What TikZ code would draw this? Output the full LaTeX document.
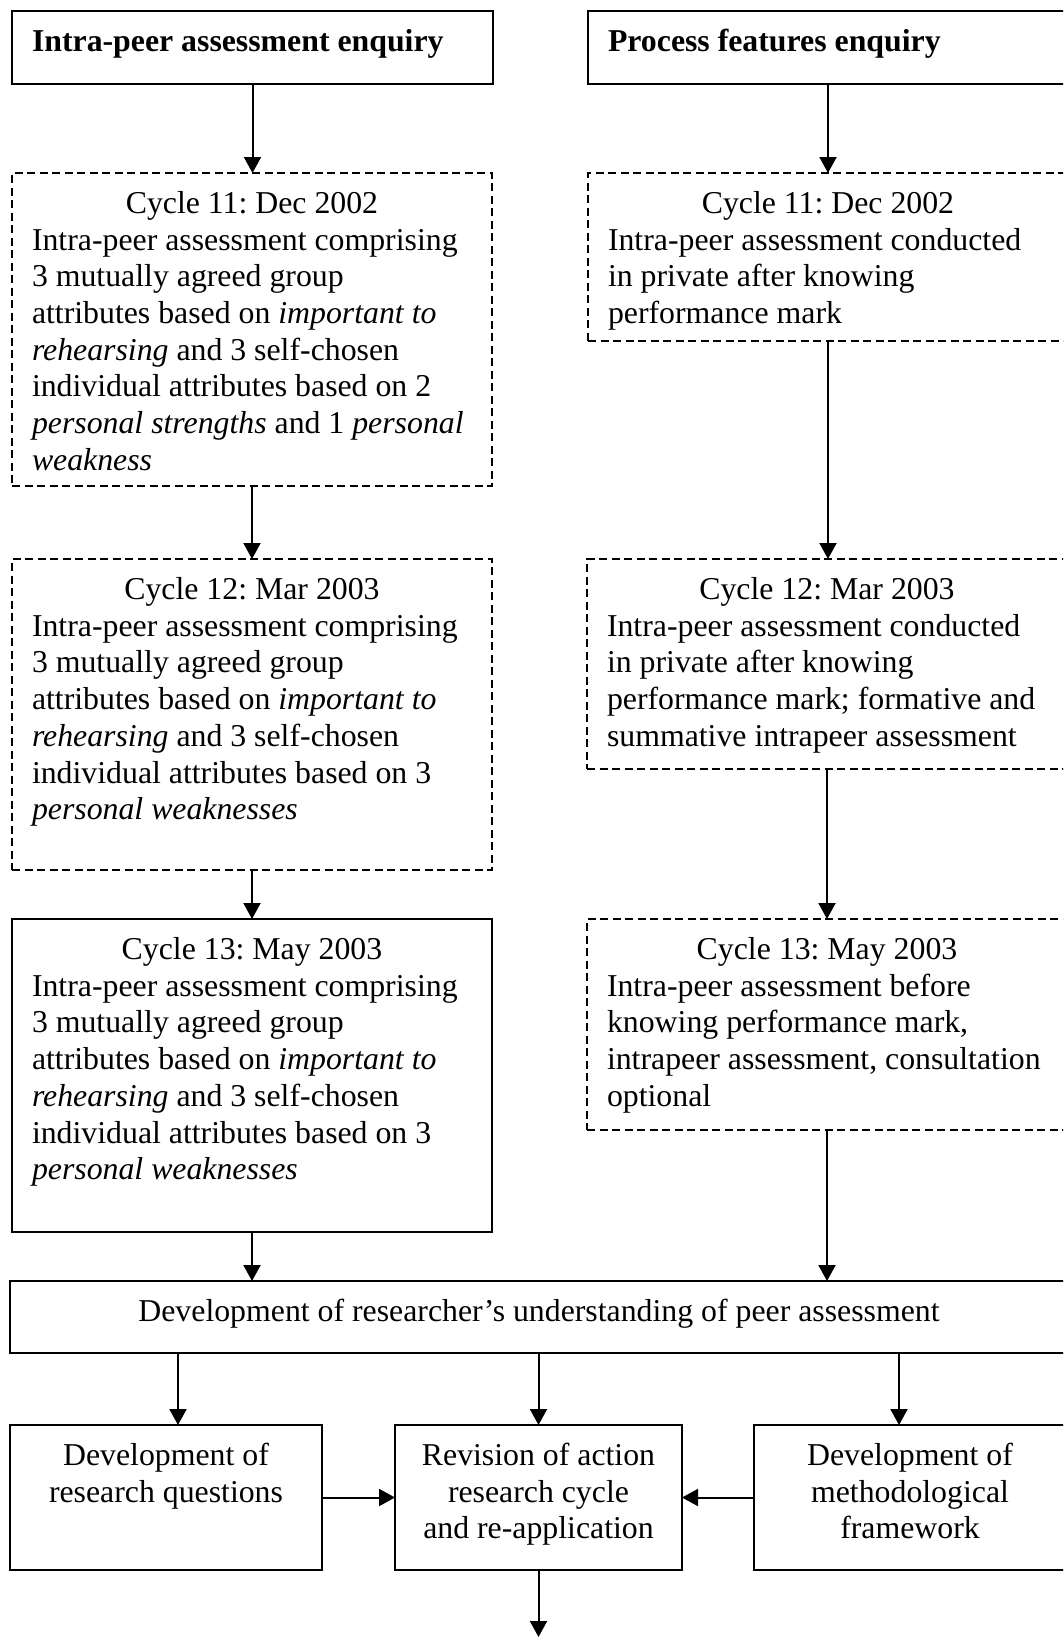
\documentclass[tikz,border=0pt]{standalone}
\usepackage{fontspec}
\setmainfont{Liberation Serif}
\usetikzlibrary{arrows.meta}
\frenchspacing
\begin{document}
\begin{tikzpicture}[x=1pt,y=-1pt,
  box/.style={draw, line width=2pt, inner sep=0pt, outer sep=0pt, anchor=north west},
  dbox/.style={box, dash pattern=on 8pt off 4.5pt},
  txt/.style={inner sep=0pt, outer sep=0pt, align=left, anchor=north west,
              font=\fontsize{31.8}{36.7}\selectfont},
  ctxt/.style={txt, align=center, anchor=north},
  arr/.style={line width=2pt, -{Triangle[width=17pt,length=16pt]}}]
\path[use as bounding box] (0,0) rectangle (1063,1638);
\clip (0,0) rectangle (1063,1638);
\fill[white] (0,0) rectangle (1063,1638);

% column headings
\node[box, minimum width=481pt, minimum height=73pt] (tL) at (12,11) {};
\node[box, minimum width=480pt, minimum height=73pt] (tR) at (588,11) {};
\node[txt] (tLt) at ([shift={(20pt,-14.8pt)}]tL.north west) {\strut\textbf{Intra-peer assessment enquiry}};
\node[txt] (tRt) at ([shift={(20pt,-14.8pt)}]tR.north west) {\strut\textbf{Process features enquiry}};

% left column: intra-peer assessment cycles
\node[dbox, minimum width=480pt, minimum height=313pt] (c11L) at (12,173) {};
\node[txt] (c11Lt) at ([shift={(20pt,-14.8pt)}]c11L.north west) {%
  \makebox[440pt]{\strut Cycle 11: Dec 2002}\\
  Intra-peer assessment comprising\\
  3 mutually agreed group\\
  attributes based on \textit{important to}\\
  \textit{rehearsing} and 3 self-chosen\\
  individual attributes based on 2\\
  \textit{personal strengths} and 1 \textit{personal}\\
  \textit{weakness}};

\node[dbox, minimum width=480pt, minimum height=311pt] (c12L) at (12,559) {};
\node[txt] (c12Lt) at ([shift={(20pt,-14.8pt)}]c12L.north west) {%
  \makebox[440pt]{\strut Cycle 12: Mar 2003}\\
  Intra-peer assessment comprising\\
  3 mutually agreed group\\
  attributes based on \textit{important to}\\
  \textit{rehearsing} and 3 self-chosen\\
  individual attributes based on 3\\
  \textit{personal weaknesses}};

\node[box, minimum width=480pt, minimum height=313pt] (c13L) at (12,919) {};
\node[txt] (c13Lt) at ([shift={(20pt,-14.8pt)}]c13L.north west) {%
  \makebox[440pt]{\strut Cycle 13: May 2003}\\
  Intra-peer assessment comprising\\
  3 mutually agreed group\\
  attributes based on \textit{important to}\\
  \textit{rehearsing} and 3 self-chosen\\
  individual attributes based on 3\\
  \textit{personal weaknesses}};

% right column: process features cycles
\node[dbox, minimum width=480pt, minimum height=168pt] (c11R) at (588,173) {};
\node[txt] (c11Rt) at ([shift={(20pt,-14.8pt)}]c11R.north west) {%
  \makebox[440pt]{\strut Cycle 11: Dec 2002}\\
  Intra-peer assessment conducted\\
  in private after knowing\\
  performance mark};

\node[dbox, minimum width=480pt, minimum height=210pt] (c12R) at (587,559) {};
\node[txt] (c12Rt) at ([shift={(20pt,-14.8pt)}]c12R.north west) {%
  \makebox[440pt]{\strut Cycle 12: Mar 2003}\\
  Intra-peer assessment conducted\\
  in private after knowing\\
  performance mark; formative and\\
  summative intrapeer assessment};

\node[dbox, minimum width=480pt, minimum height=211pt] (c13R) at (587,919) {};
\node[txt] (c13Rt) at ([shift={(20pt,-14.8pt)}]c13R.north west) {%
  \makebox[440pt]{\strut Cycle 13: May 2003}\\
  Intra-peer assessment before\\
  knowing performance mark,\\
  intrapeer assessment, consultation\\
  optional};

% shared understanding and its outcomes
\node[box, minimum width=1058pt, minimum height=72pt] (dev) at (10,1281) {};
\node[ctxt] (devt) at ([shift={(0pt,-14.8pt)}]dev.north) {\strut Development of researcher's understanding of peer assessment};

\node[box, minimum width=312pt, minimum height=145pt] (A) at (10,1425) {};
\node[box, minimum width=287pt, minimum height=145pt] (B) at (395,1425) {};
\node[box, minimum width=312pt, minimum height=145pt] (C) at (754,1425) {};
\node[ctxt] (At) at ([shift={(0pt,-14.8pt)}]A.north) {\strut Development of\\research questions};
\node[ctxt] (Bt) at ([shift={(0pt,-14.8pt)}]B.north) {\strut Revision of action\\research cycle\\and re-application};
\node[ctxt] (Ct) at ([shift={(0pt,-14.8pt)}]C.north) {\strut Development of\\methodological\\framework};
\coordinate (out) at (538.5,1637);

% connectors
\draw[arr] (tL.south) -- (tL.south |- c11L.north);
\draw[arr] (c11L.south) -- (c11L.south |- c12L.north);
\draw[arr] (c12L.south) -- (c12L.south |- c13L.north);
\draw[arr] (c13L.south) -- (c13L.south |- dev.north);
\draw[arr] (tR.south) -- (tR.south |- c11R.north);
\draw[arr] (c11R.south) -- (c11R.south |- c12R.north);
\draw[arr] (c12R.south) -- (c12R.south |- c13R.north);
\draw[arr] (c13R.south) -- (c13R.south |- dev.north);
\draw[arr] ([xshift=12pt]A.north |- dev.south) -- ([xshift=12pt]A.north);
\draw[arr] (B.north |- dev.south) -- (B.north);
\draw[arr] ([xshift=-11pt]C.north |- dev.south) -- ([xshift=-11pt]C.north);
\draw[arr] (A.east) -- (B.west);
\draw[arr] (C.west) -- (B.east);
\draw[arr] (B.south) -- (out);
\end{tikzpicture}
\end{document}
